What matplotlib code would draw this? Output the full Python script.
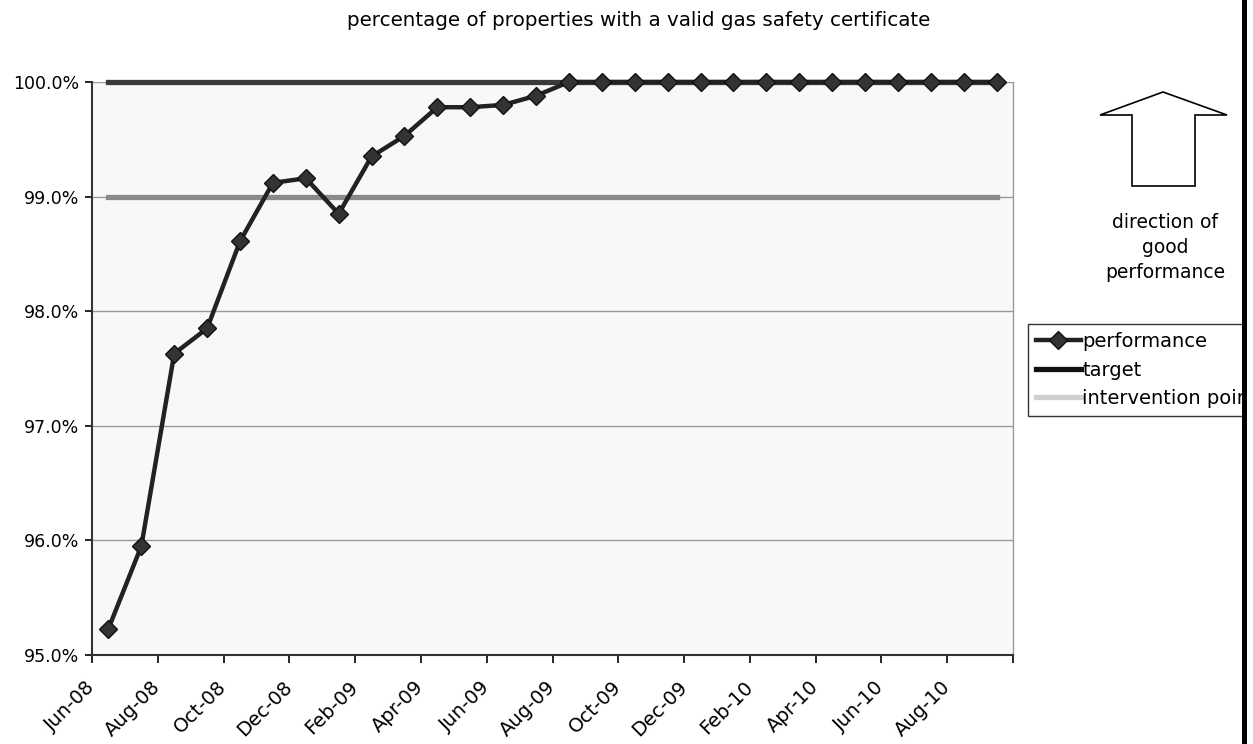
import matplotlib
matplotlib.use("Agg")
import matplotlib.pyplot as plt
from matplotlib.patches import Polygon, Rectangle
from matplotlib.ticker import FuncFormatter

plt.rcParams["font.family"] = ["DejaVu Sans"]

# dados
months = ["Jun-08", "Jul-08", "Aug-08", "Sep-08", "Oct-08", "Nov-08", "Dec-08",
          "Jan-09", "Feb-09", "Mar-09", "Apr-09", "May-09", "Jun-09", "Jul-09",
          "Aug-09", "Sep-09", "Oct-09", "Nov-09", "Dec-09", "Jan-10", "Feb-10",
          "Mar-10", "Apr-10", "May-10", "Jun-10", "Jul-10", "Aug-10", "Sep-10"]
performance = [95.23, 95.95, 97.63, 97.85, 98.61, 99.12, 99.16, 98.85, 99.35,
               99.53, 99.78, 99.78, 99.80, 99.88, 100.0, 100.0, 100.0, 100.0,
               100.0, 100.0, 100.0, 100.0, 100.0, 100.0, 100.0, 100.0, 100.0, 100.0]
target = [100.0] * len(months)
intervention = [99.0] * len(months)
tick_labels = months[::2]

W, H = 1253, 744
fig = plt.figure(figsize=(W / 100, H / 100), dpi=100)
ax = fig.add_axes([92 / W, 1 - 655 / H, (1013 - 92) / W, (655 - 82) / H])
ax.set_facecolor("#f8f8f8")

x = [i + 0.5 for i in range(len(months))]

ax.plot(x, intervention, color="#8a8a8a", lw=3.8, zorder=2, label="intervention point",
        clip_on=False)
ax.plot(x, target, color="#3a3a3a", lw=3.8, zorder=2.6, label="target", clip_on=False)
ax.plot(x, performance, color="#222222", lw=3.2, marker="D", markersize=9,
        markerfacecolor="#333333", markeredgecolor="#111111", zorder=3,
        label="performance", clip_on=False)

ax.set_xlim(0, len(months))
ax.set_ylim(95, 100)
ax.set_yticks([95, 96, 97, 98, 99, 100])
ax.yaxis.set_major_formatter(FuncFormatter(lambda v, p: f"{v:.1f}%"))
ax.grid(axis="y", color="#9a9a9a", lw=1)
ax.set_axisbelow(True)

xt = list(range(0, len(months) + 1, 2))
ax.set_xticks(xt)
ax.set_xticklabels(tick_labels + [""], rotation=45, ha="right", va="center",
                   rotation_mode="anchor")
ax.tick_params(axis="x", length=6, width=1.2, direction="out", labelsize=14, pad=15)
ax.tick_params(axis="y", length=5, width=1.2, direction="out", labelsize=12.5, pad=4)

for s in ["left", "bottom"]:
    ax.spines[s].set_color("#333333")
    ax.spines[s].set_linewidth(1.5)
ax.spines["top"].set_visible(False)
ax.spines["right"].set_color("#999999")
ax.spines["right"].set_linewidth(1)

fig.text(639 / W, 1 - 20 / H, "percentage of properties with a valid gas safety certificate",
         ha="center", va="center", fontsize=14.3)

# seta
pts = [(1163, 92), (1227, 115), (1195, 115), (1195, 186), (1132, 186),
       (1132, 115), (1100, 115)]
arrow = Polygon([(px / W, 1 - py / H) for px, py in pts], closed=True,
                transform=fig.transFigure, facecolor="white", edgecolor="black", lw=1.2)
fig.patches.append(arrow)

fig.text(1165 / W, 1 - 222 / H, "direction of", ha="center", va="center", fontsize=13.5)
fig.text(1165 / W, 1 - 248 / H, "good", ha="center", va="center", fontsize=13.5)
fig.text(1165 / W, 1 - 273 / H, "performance", ha="center", va="center", fontsize=13.5)

# legenda
h, l = ax.get_legend_handles_labels()
order = [2, 1, 0]
leg = fig.legend([h[i] for i in order], [l[i] for i in order],
                 loc="upper left", bbox_to_anchor=(1028 / W, 1 - 324 / H),
                 fontsize=14, frameon=True, fancybox=False, handlelength=2.3,
                 handletextpad=0.1, borderpad=0.4, labelspacing=0.5,
                 borderaxespad=0)
leg.get_frame().set_edgecolor("black")
leg.get_frame().set_linewidth(1)
leg.legend_handles[1].set_color("#111111")
leg.legend_handles[2].set_color("#d0d0d0")

# borda da página
fig.patches.append(Rectangle((1242 / W, 0), 11 / W, 1, transform=fig.transFigure,
                             facecolor="white", edgecolor="none", zorder=10))
fig.patches.append(Rectangle((1242 / W, 0), 5 / W, 1, transform=fig.transFigure,
                             facecolor="black", edgecolor="none", zorder=11))

fig.savefig("out.png", dpi=100)
